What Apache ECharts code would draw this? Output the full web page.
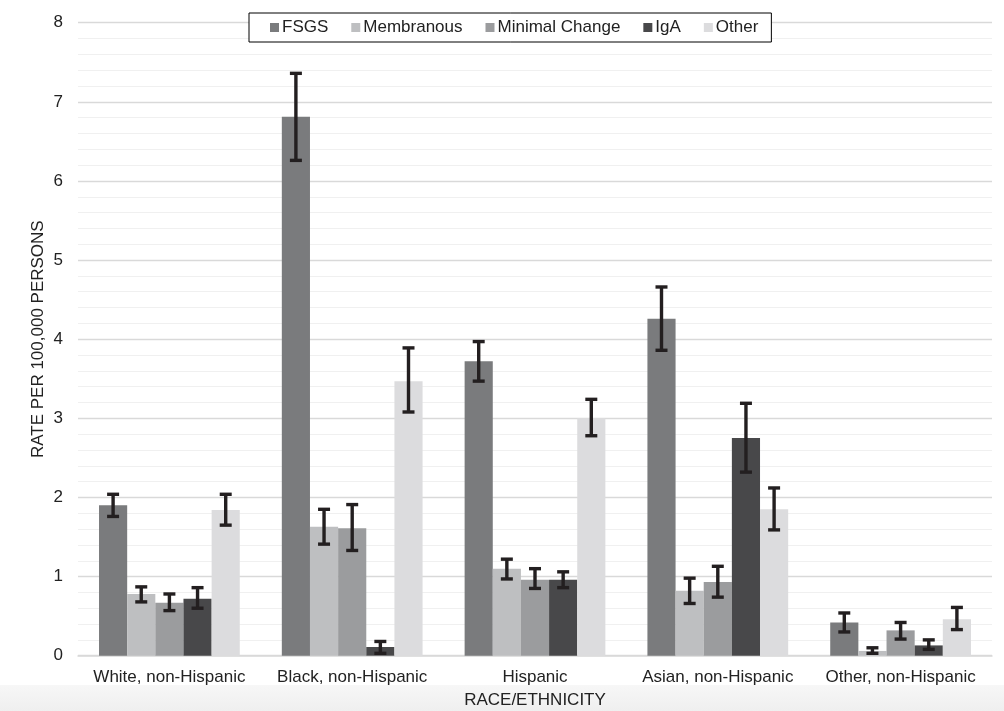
<!DOCTYPE html>
<html>
<head>
<meta charset="utf-8">
<script src="https://cdn.jsdelivr.net/npm/echarts@6/dist/echarts.min.js"></script>
<style>
  html, body { margin: 0; padding: 0; background: #fff; }
  #chart { width: 1004px; height: 711px; }
</style>
</head>
<body>
<div id="chart"></div>
<script>
// Glomerular disease incidence by race/ethnicity, with 95% confidence intervals
const categories = ['White, non-Hispanic', 'Black, non-Hispanic', 'Hispanic', 'Asian, non-Hispanic', 'Other, non-Hispanic'];
const seriesNames = ['FSGS', 'Membranous', 'Minimal Change', 'IgA', 'Other'];

const fsgs          = [1.90, 6.81, 3.72, 4.26, 0.42];
const membranous    = [0.78, 1.63, 1.10, 0.82, 0.06];
const minimalChange = [0.67, 1.61, 0.96, 0.93, 0.32];
const iga           = [0.72, 0.11, 0.96, 2.75, 0.13];
const other         = [1.84, 3.47, 3.00, 1.85, 0.46];

// [lower, upper] interval bounds per category
const fsgsCI          = [[1.76, 2.04], [6.26, 7.36], [3.47, 3.97], [3.86, 4.66], [0.30, 0.54]];
const membranousCI    = [[0.68, 0.87], [1.41, 1.85], [0.97, 1.22], [0.66, 0.98], [0.03, 0.10]];
const minimalChangeCI = [[0.57, 0.78], [1.33, 1.91], [0.85, 1.10], [0.74, 1.13], [0.21, 0.42]];
const igaCI           = [[0.60, 0.86], [0.03, 0.18], [0.86, 1.06], [2.32, 3.19], [0.08, 0.20]];
const otherCI         = [[1.65, 2.04], [3.08, 3.89], [2.78, 3.24], [1.59, 2.12], [0.33, 0.61]];

const yTicks = [0, 1, 2, 3, 4, 5, 6, 7, 8];

const values = [fsgs, membranous, minimalChange, iga, other];
const intervals = [fsgsCI, membranousCI, minimalChangeCI, igaCI, otherCI];
const colors = ['#7a7b7d', '#bebfc1', '#9b9c9e', '#48484a', '#dcdcde'];

const CATEGORY_GAP = 0.23;
const N_SERIES = seriesNames.length;
const FONT = '"Liberation Sans", Arial, sans-serif';

const errorData = [];
intervals.forEach((ci, s) => {
  ci.forEach((b, c) => errorData.push([c, s, b[0], b[1]]));
});

const chart = echarts.init(document.getElementById('chart'), null, { renderer: 'canvas' });

const barSeries = seriesNames.map((name, i) => ({
  name: name,
  type: 'bar',
  data: values[i],
  barGap: '0%',
  barCategoryGap: (CATEGORY_GAP * 100) + '%',
  itemStyle: { color: colors[i] },
  emphasis: { disabled: true },
  z: 2
}));

// Confidence-interval whiskers centred on each bar of the group
const errorSeries = {
  type: 'custom',
  name: 'interval',
  data: errorData,
  encode: { x: 0, y: [2, 3] },
  z: 5,
  silent: true,
  renderItem: function (params, api) {
    const cat = api.value(0);
    const s = api.value(1);
    const band = api.size([1, 0])[0];
    const bw = band * (1 - CATEGORY_GAP) / N_SERIES;
    const base = api.coord([cat, 0]);
    const cx = base[0] + (s - (N_SERIES - 1) / 2) * bw;
    const yLo = api.coord([cat, api.value(2)])[1];
    const yHi = api.coord([cat, api.value(3)])[1];
    const half = 6;
    const style = { stroke: '#231f20', lineWidth: 3.4 };
    return {
      type: 'group',
      children: [
        { type: 'line', shape: { x1: cx, y1: yLo, x2: cx, y2: yHi }, style: style },
        { type: 'line', shape: { x1: cx - half, y1: yHi, x2: cx + half, y2: yHi }, style: style },
        { type: 'line', shape: { x1: cx - half, y1: yLo, x2: cx + half, y2: yLo }, style: style }
      ]
    };
  }
};

chart.setOption({
  backgroundColor: '#ffffff',
  animation: false,
  textStyle: { fontFamily: FONT },
  graphic: [{
    type: 'rect',
    z: -10,
    silent: true,
    shape: { x: 0, y: 685, width: 1004, height: 26 },
    style: {
      fill: new echarts.graphic.LinearGradient(0, 0, 0, 1, [
        { offset: 0, color: '#f7f7f7' },
        { offset: 1, color: '#efefef' }
      ])
    }
  }],
  legend: {
    data: seriesNames,
    left: 249,
    top: 13,
    icon: 'rect',
    itemWidth: 9,
    itemHeight: 9,
    itemGap: 23,
    padding: [6, 13, 6, 21],
    borderColor: '#000000',
    borderWidth: 1,
    backgroundColor: '#ffffff',
    textStyle: { fontSize: 17, color: '#222', fontFamily: FONT, padding: [0, 0, 0, -2] }
  },
  grid: { left: 78, right: 12, top: 22.7, bottom: 55.3, containLabel: false, outerBoundsMode: 'none' },
  xAxis: {
    type: 'category',
    data: categories,
    name: 'RACE/ETHNICITY',
    nameLocation: 'middle',
    nameGap: 36,
    nameMoveOverlap: false,
    nameTextStyle: { fontSize: 17, color: '#222', fontFamily: FONT },
    axisLine: { show: true, lineStyle: { color: '#d9d9d9', width: 1.5 } },
    axisTick: { show: false },
    axisLabel: { fontSize: 17, color: '#222', margin: 13, interval: 0, fontFamily: FONT }
  },
  yAxis: {
    type: 'value',
    min: yTicks[0],
    max: yTicks[yTicks.length - 1],
    interval: 1,
    name: 'RATE PER 100,000 PERSONS',
    nameLocation: 'middle',
    nameGap: 31,
    nameMoveOverlap: false,
    nameTextStyle: { fontSize: 17, color: '#222', fontFamily: FONT },
    axisLine: { show: false },
    axisTick: { show: false },
    axisLabel: { fontSize: 17, color: '#222', margin: 15, fontFamily: FONT },
    splitLine: { show: true, lineStyle: { color: '#d9d9d9', width: 1.3 } },
    minorTick: { show: false, splitNumber: 5 },
    minorSplitLine: { show: true, lineStyle: { color: '#f0f0f0', width: 1 } }
  },
  series: barSeries.concat([errorSeries])
});
</script>
</body>
</html>
